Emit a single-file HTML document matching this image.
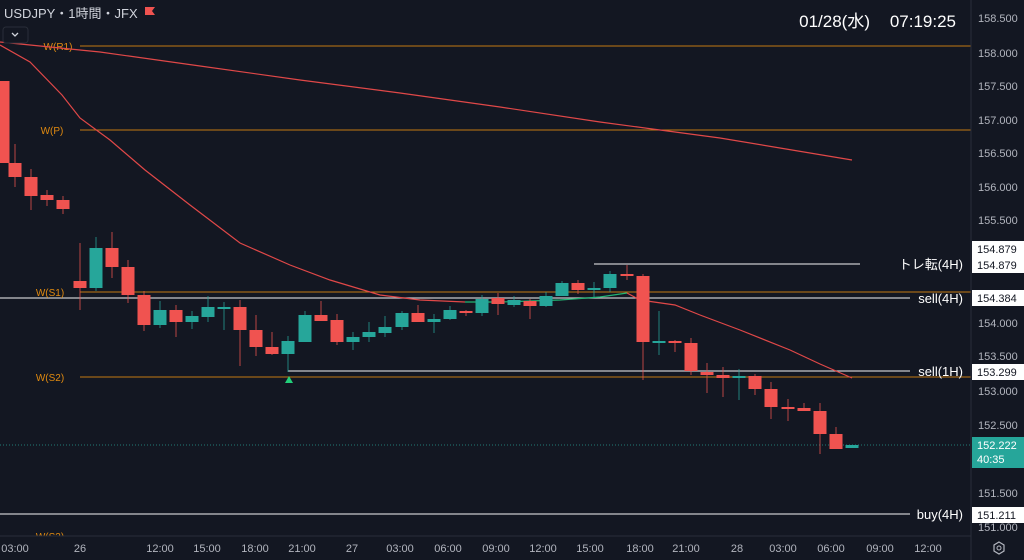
<!DOCTYPE html>
<html><head><meta charset="utf-8"><style>
html,body{margin:0;padding:0;background:#131722;width:1024px;height:560px;overflow:hidden}
svg{display:block;font-family:"Liberation Sans","Noto Sans CJK JP",sans-serif}
</style></head><body>
<svg id="s" width="1024" height="560" viewBox="0 0 1024 560" xmlns="http://www.w3.org/2000/svg">
<rect width="1024" height="560" fill="#131722"/>
<defs><clipPath id="c"><rect x="0" y="0" width="971" height="536"/></clipPath></defs>
<g clip-path="url(#c)">
<line x1="80" y1="46" x2="971" y2="46" stroke="#c37a12" stroke-width="1"/>
<line x1="80" y1="130" x2="971" y2="130" stroke="#c37a12" stroke-width="1"/>
<line x1="80" y1="292" x2="971" y2="292" stroke="#c37a12" stroke-width="1"/>
<line x1="80" y1="377" x2="971" y2="377" stroke="#c37a12" stroke-width="1"/>
<line x1="0" y1="298" x2="910" y2="298" stroke="#c8c8cc" stroke-width="1.2"/>
<line x1="288" y1="371" x2="910" y2="371" stroke="#c8c8cc" stroke-width="1.2"/>
<line x1="594" y1="264" x2="860" y2="264" stroke="#c8c8cc" stroke-width="1.2"/>
<line x1="0" y1="514" x2="910" y2="514" stroke="#c8c8cc" stroke-width="1.2"/>
<line x1="0" y1="445" x2="971" y2="445" stroke="#26a69a" stroke-width="1" stroke-dasharray="1 2" opacity="0.7"/>
<text x="58" y="50" fill="#e08a10" font-size="10" text-anchor="middle">W(R1)</text>
<text x="52" y="134" fill="#e08a10" font-size="10" text-anchor="middle">W(P)</text>
<text x="50" y="296" fill="#e08a10" font-size="10" text-anchor="middle">W(S1)</text>
<text x="50" y="381" fill="#e08a10" font-size="10" text-anchor="middle">W(S2)</text>
<text x="50" y="540" fill="#e08a10" font-size="10" text-anchor="middle">W(S3)</text>
<polyline fill="none" stroke="#e04848" stroke-width="1.2" points="0,42 100,52 200,66 300,80 400,93 500,107 600,122 660,130 720,138 780,148 852,160"/>
<polyline fill="none" stroke="#e04848" stroke-width="1.2" points="0,45 30,62 62,95 80,118 110,140 145,170 190,205 240,243 290,265 330,280 380,295 420,300 465,302"/>
<polyline fill="none" stroke="#22b573" stroke-width="1.2" points="465,302 500,302 560,300 600,297 627,293"/>
<polyline fill="none" stroke="#e04848" stroke-width="1.2" points="627,293 640,300 675,305 700,315 740,330 790,350 820,364 852,378"/>
<g id="cd"></g>
<polygon points="289,376 285,383 293,383" fill="#22d07a"/>
</g>
<line x1="971" y1="0" x2="971" y2="560" stroke="#2a2e39"/>
<line x1="0" y1="536" x2="971" y2="536" stroke="#2a2e39"/>
<text x="4" y="18" fill="#d1d4dc" font-size="13">USDJPY・1時間・JFX</text>
<path d="M145 7 h10 l-3 4 l3 4 h-10z" fill="#f05350"/>
<rect x="3" y="27" width="25" height="16" rx="3" fill="#131722" stroke="#2a2e39"/>
<path d="M12 33 l3 3 l3 -3" fill="none" stroke="#d1d4dc" stroke-width="1.3"/>
<text x="870" y="27" fill="#ffffff" font-size="17" text-anchor="end">01/28(水)</text>
<text x="956" y="27" fill="#ffffff" font-size="17" text-anchor="end">07:19:25</text>
<g id="ax" font-size="11" fill="#b2b5be"></g>
<g font-size="12" fill="#ffffff" text-anchor="end">
<text x="963" y="269" font-size="13">トレ転(4H)</text>
<text x="963" y="303" font-size="13">sell(4H)</text>
<text x="963" y="376" font-size="13">sell(1H)</text>
<text x="963" y="519" font-size="13">buy(4H)</text>
</g>
<g font-size="11">
<rect x="972" y="241" width="52" height="16" fill="#fff"/><text x="977" y="253" fill="#131722">154.879</text>
<rect x="972" y="257" width="52" height="16" fill="#fff"/><text x="977" y="269" fill="#131722">154.879</text>
<rect x="972" y="290" width="52" height="16" fill="#fff"/><text x="977" y="302" fill="#131722">154.384</text>
<rect x="972" y="364" width="52" height="16" fill="#fff"/><text x="977" y="376" fill="#131722">153.299</text>
<rect x="972" y="507" width="52" height="16" fill="#fff"/><text x="977" y="519" fill="#131722">151.211</text>
<rect x="972" y="437" width="52" height="31" fill="#26a69a"/><text x="977" y="449" fill="#fff">152.222</text><text x="977" y="463" fill="#fff">40:35</text>
</g>
<g transform="translate(999,548)"><polygon points="0,-6 5,-3 5,3 0,6 -5,3 -5,-3" fill="none" stroke="#b2b5be" stroke-width="1.2"/><circle r="2" fill="none" stroke="#b2b5be"/></g>
</svg>
<script>
var C=[[3,81,163,81,163],[15,163,177,144,187],[31,177,196,169,210],[47,195,200,190,206],[63,200,209,196,214],[80,281,288,243,310],[96,288,248,237,291],[112,248,267,232,278],[128,267,295,260,303],[144,295,325,291,331],[160,325,310,301,328],[176,310,322,305,337],[192,322,316,311,329],[208,317,307,296,322],[224,308,307,302,330],[240,307,330,300,366],[256,330,347,315,356],[272,347,354,332,355],[288,354,341,336,372],[305,342,315,311,342],[321,315,321,301,321],[337,320,342,314,345],[353,342,337,332,350],[369,337,332,322,342],[385,333,327,316,337],[402,327,313,311,330],[418,313,322,305,322],[434,322,319,314,333],[450,319,310,306,320],[466,311,312,310,316],[482,313,299,295,316],[498,298,304,293,315],[514,305,300,296,307],[530,301,306,299,319],[546,306,296,292,307],[562,296,283,281,296],[578,283,290,280,294],[594,290,288,282,298],[610,288,274,271,292],[627,274,276,265,280],[643,276,342,274,380],[659,342,341,311,355],[675,341,342,340,352],[691,343,371,338,375],[707,372,375,363,393],[723,375,378,367,397],[739,378,376,369,400],[755,376,389,374,395],[771,389,407,382,419],[788,407,408,399,421],[804,408,411,403,411],[820,411,434,403,454],[836,434,449,427,449],[852,448,445,445,448]];
var g=document.getElementById('cd'),h='';
C.forEach(function(c){var up=c[2]<c[1];var col=up?'#26a69a':'#f05350';var t=Math.min(c[1],c[2]),b=Math.max(c[1],c[2]);if(b-t<2)b=t+2;
h+='<line x1="'+c[0]+'" y1="'+c[3]+'" x2="'+c[0]+'" y2="'+c[4]+'" stroke="'+col+'" stroke-width="1" opacity="0.75"/>';
h+='<rect x="'+(c[0]-6.5)+'" y="'+t+'" width="13" height="'+(b-t)+'" fill="'+col+'"/>';});
g.innerHTML=h;
var ax=document.getElementById('ax'),a='';
[[158.5,22],[158,57],[157.5,90],[157,124],[156.5,157],[156,191],[155.5,224],[154,327],[153.5,360],[153,395],[152.5,429],[151.5,497],[151,531]].forEach(function(p){a+='<text x="978" y="'+p[1]+'">'+p[0].toFixed(3)+'</text>';});
[['03:00',15],['26',80],['12:00',160],['15:00',207],['18:00',255],['21:00',302],['27',352],['03:00',400],['06:00',448],['09:00',496],['12:00',543],['15:00',590],['18:00',640],['21:00',686],['28',737],['03:00',783],['06:00',831],['09:00',880],['12:00',928]].forEach(function(p){a+='<text x="'+p[1]+'" y="552" text-anchor="middle">'+p[0]+'</text>';});
ax.innerHTML=a;
</script>
</body></html>
